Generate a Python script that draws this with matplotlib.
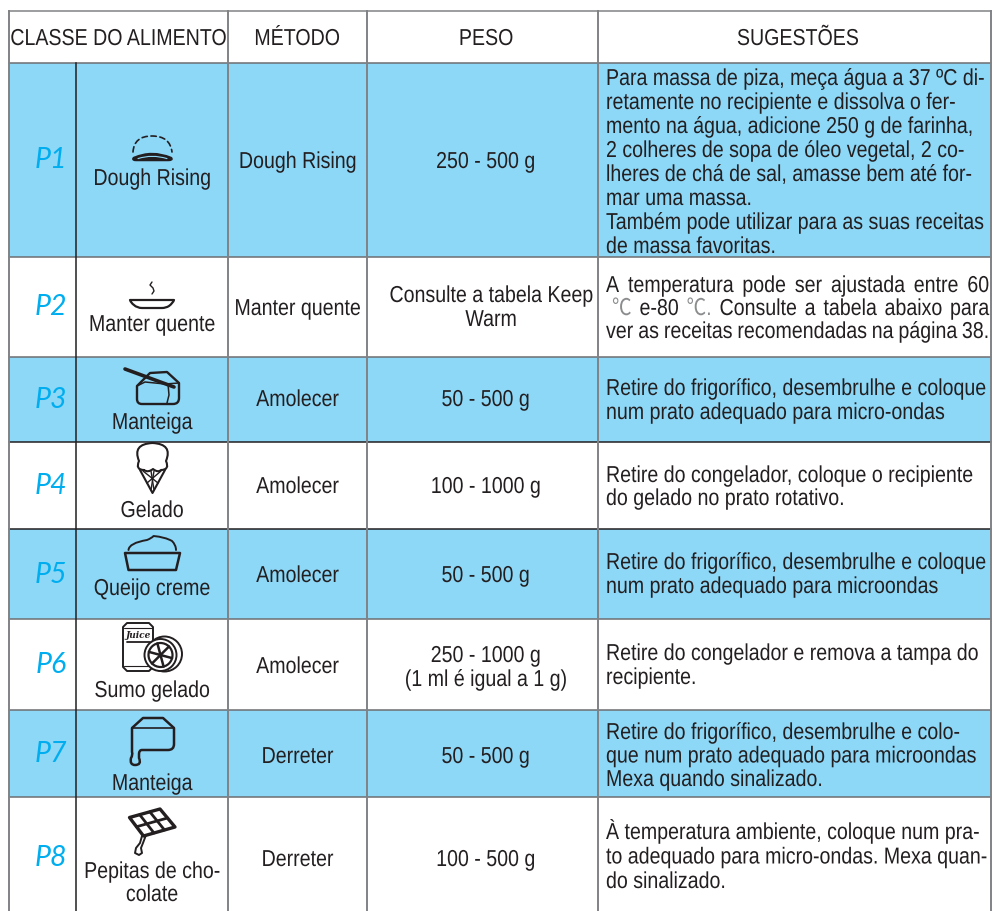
import numpy as np
import matplotlib
matplotlib.use('Agg')
from matplotlib import pyplot as plt
from matplotlib.path import Path
from matplotlib.patches import PathPatch, Circle, Rectangle
from matplotlib.patheffects import AbstractPathEffect
from matplotlib.text import Text
from matplotlib.transforms import Affine2D, Bbox

plt.rcParams['font.family'] = ['Liberation Sans', 'Noto Sans CJK SC', 'DejaVu Sans']

headers = ['CLASSE DO ALIMENTO', 'MÉTODO', 'PESO', 'SUGESTÕES']
programs = ['P1', 'P2', 'P3', 'P4', 'P5', 'P6', 'P7', 'P8']
foods = ['Dough Rising', 'Manter quente', 'Manteiga', 'Gelado', 'Queijo creme', 'Sumo gelado', 'Manteiga',
         'Pepitas de cho-\ncolate']
methods = ['Dough Rising', 'Manter quente', 'Amolecer', 'Amolecer', 'Amolecer', 'Amolecer', 'Derreter', 'Derreter']
weights = ['250 - 500 g', 'Consulte a tabela Keep\nWarm', '50 - 500 g', '100 - 1000 g', '50 - 500 g',
           '250 - 1000 g\n(1 ml é igual a 1 g)', '50 - 500 g', '100 - 500 g']
tips = [
    ['Para massa de piza, meça água a 37 ºC di-', 'retamente no recipiente e dissolva o fer-',
     'mento na água, adicione 250 g de farinha,', '2 colheres de sopa de óleo vegetal, 2 co-',
     'lheres de chá de sal, amasse bem até for-', 'mar uma massa.', 'Também pode utilizar para as suas receitas',
     'de massa favoritas.'],
    ['A temperatura pode ser ajustada entre 60', '℃ e-80 ℃. Consulte a tabela abaixo para',
     'ver as receitas recomendadas na página 38.'],
    ['Retire do frigorífico, desembrulhe e coloque', 'num prato adequado para micro-ondas'],
    ['Retire do congelador, coloque o recipiente', 'do gelado no prato rotativo.'],
    ['Retire do frigorífico, desembrulhe e coloque', 'num prato adequado para microondas'],
    ['Retire do congelador e remova a tampa do', 'recipiente.'],
    ['Retire do frigorífico, desembrulhe e colo-', 'que num prato adequado para microondas',
     'Mexa quando sinalizado.'],
    ['À temperatura ambiente, coloque num pra-', 'to adequado para micro-ondas. Mexa quan-', 'do sinalizado.'],
]

# layout, in pixels of the 992x911 page
col_x = [9, 76, 228, 367, 598, 991]
row_y = [11, 63, 257, 357, 442, 529, 619, 710, 797, 911]
row_line = ['#6d6e71', '#6d6e71', '#6d6e71', '#231f20', '#231f20', '#6d6e71', '#6d6e71', '#6d6e71', '#231f20']
shaded = [True, False, True, False, True, False, True, False]
prog_y = [168, 315, 408, 494, 583, 673, 762, 866]
food_y = [185, 331, 429, 517, 595, 697, 790, 878]
method_y = [168, 315, 406, 493, 582, 673, 763, 866]
weight_y = [168, 302, 406, 493, 582, 662, 763, 866]
tip_y = [85, 292, 395, 482, 569, 660, 739, 839]
tip_step = [24, 23, 24, 23, 24, 24, 23.5, 24.5]

INK = '#231f20'
BLUE = '#8dd7f7'
CYAN = '#00aeef'
FS = 16.6
SQUEEZE = 0.85

fig = plt.figure(figsize=(9.92, 9.11), dpi=100)
ax = fig.add_axes([0, 0, 1, 1])
ax.set_xlim(0, 992)
ax.set_ylim(911, 0)
ax.axis('off')


class Squeeze(AbstractPathEffect):
    # no condensed font is installed, so narrow the glyphs around the text anchor
    def __init__(self, text):
        super().__init__()
        self.text = text

    def draw_path(self, renderer, gc, tpath, affine, rgbFace=None):
        x0 = self.text.anchor_x()
        narrow = Affine2D().translate(-x0, 0).scale(SQUEEZE, 1).translate(x0, 0)
        renderer.draw_path(gc, tpath, affine + narrow, rgbFace)


class NarrowText(Text):
    def anchor_x(self):
        return self.get_transform().transform(self.get_position())[0]

    def get_window_extent(self, renderer=None, dpi=None):
        bb = super().get_window_extent(renderer, dpi)
        x0 = self.anchor_x()
        return Bbox([[x0 + (bb.x0 - x0) * SQUEEZE, bb.y0], [x0 + (bb.x1 - x0) * SQUEEZE, bb.y1]])


def put(x, y, s, ha='center', size=FS, color=INK):
    t = NarrowText(x, y, s, fontsize=size, color=color, ha=ha, va='baseline')
    ax.add_artist(t)
    t.set_path_effects([Squeeze(t)])
    return t


def draw(cmds, lw=1.3, color=INK, fill='none', closed=False, ls='-', z=4):
    # a tuple of 2 is a line, of 4 a quadratic curve, of 6 a cubic curve
    verts, codes = [cmds[0]], [Path.MOVETO]
    for c in cmds[1:]:
        if len(c) == 2:
            verts.append(c)
            codes.append(Path.LINETO)
        elif len(c) == 4:
            verts += [c[:2], c[2:]]
            codes += [Path.CURVE3] * 2
        else:
            verts += [c[:2], c[2:4], c[4:]]
            codes += [Path.CURVE4] * 3
    if closed:
        verts.append(cmds[0])
        codes.append(Path.CLOSEPOLY)
    ax.add_patch(PathPatch(Path(verts, codes), lw=lw, ec=color, fc=fill, ls=ls, zorder=z,
                           capstyle='round', joinstyle='round'))


def icon_dough():
    draw([(133, 152), (134, 136, 152, 136), (170, 136, 172, 152)], lw=1.2, ls=(0, (3.2, 2.2)))
    draw([(134, 158), (152, 150, 171, 158), (173, 160, 168, 160), (136, 160), (132, 160, 134, 158)], lw=1.8, fill=INK)
    draw([(138, 158.6), (152, 154, 167, 158.6)], lw=0.8, color=BLUE, z=5)


def icon_bowl():
    draw([(152, 282), (150, 285), (153, 288), (154, 291), (152, 294)], lw=1.0)
    draw([(130, 300), (174, 300), (173, 303, 169, 306), (166, 308, 162, 308), (142, 308), (137, 308, 134, 305),
          (131, 303, 130, 300)], lw=1.6, closed=True)


def icon_butter():
    draw([(137, 386), (150, 373), (167, 372), (179, 383), (179, 398), (179, 404, 173, 404), (142, 404),
          (137, 404, 137, 399)], lw=1.7, closed=True)
    draw([(137, 386), (145, 382), (165, 384), (179, 383)], lw=1.1)
    draw([(168, 384), (169, 395), (167, 403)], lw=1.1)
    draw([(125, 369), (174, 387)], lw=2.6)


def icon_icecream():
    draw([(144, 470), (135, 470, 139, 461), (132, 444, 152.5, 443), (173, 444, 166, 461), (170, 470, 161, 470),
          (158, 473, 153, 469), (148, 473, 144, 470)], lw=1.5)
    draw([(140, 470), (152.5, 493), (165, 470)], lw=1.5)
    for a, b in [((143, 471), (158, 483)), ((161, 471), (147, 483)), ((151, 471), (154, 490)), ((154, 471), (151, 490))]:
        draw([a, b], lw=1.0)


def icon_cheese():
    draw([(125, 553), (180, 553), (176, 570), (128.5, 570)], lw=1.8, closed=True)
    draw([(128.5, 550), (129, 543, 147, 540), (152, 538, 153.5, 536), (165, 537, 172, 541), (176, 545, 176, 550)], lw=1.4)


def icon_can():
    draw([(127, 623), (149, 623), (153, 627), (153, 667), (149, 671), (127, 671), (123, 667), (123, 627)], lw=1.4,
         closed=True, fill='white')
    draw([(127, 642), (150, 642)], lw=1.3)
    draw([(124, 628), (152, 628)], lw=0.8)
    draw([(124, 666), (152, 666)], lw=0.8)
    ax.text(138, 638, 'Juice', fontsize=6.5, family='DejaVu Serif', style='italic', weight='bold', color=INK,
            ha='center', va='baseline', zorder=5)
    ax.add_patch(Circle((164.5, 654), 17.5, fc='white', ec=INK, lw=1.4, zorder=5))
    ax.add_patch(Circle((160.5, 655), 16, fc='white', ec=INK, lw=1.4, zorder=5))
    ax.add_patch(Circle((160.5, 655), 12, fc='white', ec=INK, lw=1.6, zorder=5))
    for a in np.deg2rad(np.arange(0, 360, 60) + 15):
        draw([(160.5, 655), (160.5 + 12 * np.cos(a), 655 + 12 * np.sin(a))], lw=1.8, z=6)


def icon_melt():
    draw([(132, 728), (143, 718), (163, 718), (174, 728), (174, 744), (174, 750, 168, 750), (142, 750),
          (139, 750, 139, 754), (139, 758), (142, 765, 135, 765), (129.5, 765, 131, 758), (133, 755, 132, 752)],
         lw=1.8, closed=True)
    draw([(132, 728), (174, 728)], lw=1.2)


def icon_choco():
    a, b, c, d = np.array([129.5, 817.5]), np.array([160, 809]), np.array([175, 827]), np.array([143.5, 836])
    draw([tuple(a), tuple(b), tuple(c), tuple(d)], lw=2.4, closed=True)
    for t in (1 / 3, 2 / 3):
        draw([tuple(a + (b - a) * t), tuple(d + (c - d) * t)], lw=2.0)
    draw([tuple(a + (d - a) * 0.5), tuple(b + (c - b) * 0.5)], lw=2.0)
    draw([(142, 836), (140, 843), (136, 848), (135, 853), (139, 855), (142, 853), (141, 848), (143, 843), (146, 835)], lw=1.4)


icons = [icon_dough, icon_bowl, icon_butter, icon_icecream, icon_cheese, icon_can, icon_melt, icon_choco]


def justified(line, x0, x1, y):
    # spread the words of one line over the width of the column
    words = line.split(' ')
    rend = fig.canvas.get_renderer()
    items = [put(x0, y, w, ha='left', color='#8a8c8e' if w.startswith('℃') else INK) for w in words]
    widths = [t.get_window_extent(rend).width for t in items]
    gap = (x1 - x0 - sum(widths)) / (len(words) - 1)
    x = x0
    for t, w in zip(items, widths):
        t.set_x(x)
        x += w + gap


for i in range(8):
    top, bottom = row_y[i + 1], row_y[i + 2]
    if shaded[i]:
        ax.add_patch(Rectangle((col_x[0], top), col_x[-1] - col_x[0], bottom - top, fc=BLUE, ec='none', zorder=0))
    ax.text(51, prog_y[i], programs[i], fontsize=20.5, color=CYAN, family=['Lato', 'Liberation Sans'],
            style='italic', ha='center', va='baseline')
    icons[i]()
    for j, line in enumerate(foods[i].split('\n')):
        put(152, food_y[i] + j * 23, line)
    put(297.5, method_y[i], methods[i])
    for j, line in enumerate(weights[i].split('\n')):
        put(491 if i == 1 else 485.5, weight_y[i] + j * 24, line)
    for j, line in enumerate(tips[i]):
        y = tip_y[i] + j * tip_step[i]
        if i == 1:
            justified(line, 606 if j != 1 else 612, 989, y)
        else:
            put(606, y, line, ha='left')

for name, x in zip(headers, [118, 297, 486, 797.5]):
    put(x, 45, name)

# grid
ax.plot([col_x[0], col_x[-1]], [row_y[0], row_y[0]], color='#808285', lw=1.1, zorder=3)
for y, c in zip(row_y[1:-1], row_line):
    ax.plot([col_x[0], col_x[-1]], [y, y], color=c, lw=1.1, zorder=3)
for k, x in enumerate(col_x):
    start = row_y[1] if k == 1 else row_y[0]
    ax.plot([x, x], [start, 911], color=INK if k == 1 else '#808285', lw=1.1 if k == 1 else 1.4, zorder=3)

fig.savefig('out.png', dpi=100)
